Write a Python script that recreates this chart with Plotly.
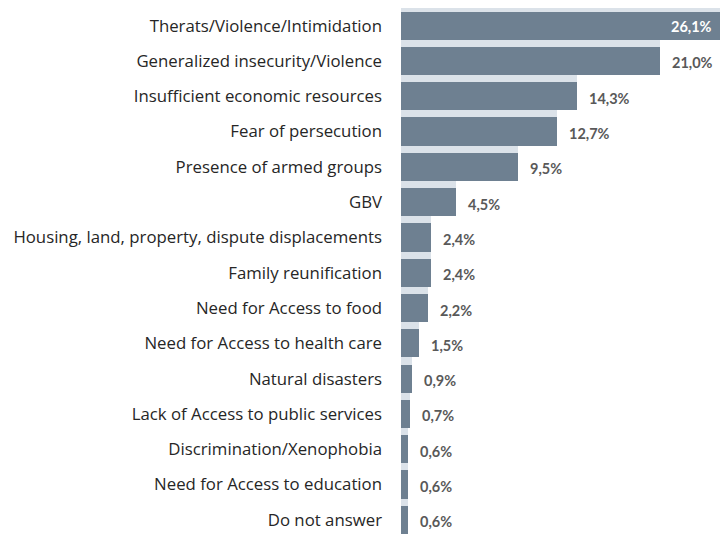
import plotly.graph_objects as go

categories = [
    "Therats/Violence/Intimidation",
    "Generalized insecurity/Violence",
    "Insufficient economic resources",
    "Fear of persecution",
    "Presence of armed groups",
    "GBV",
    "Housing, land, property, dispute displacements",
    "Family reunification",
    "Need for Access to food",
    "Need for Access to health care",
    "Natural disasters",
    "Lack of Access to public services",
    "Discrimination/Xenophobia",
    "Need for Access to education",
    "Do not answer",
]
values = [26.1, 21.0, 14.3, 12.7, 9.5, 4.5, 2.4, 2.4, 2.2, 1.5, 0.9, 0.7, 0.6, 0.6, 0.6]
value_labels = ["26,1%", "21,0%", "14,3%", "12,7%", "9,5%", "4,5%", "2,4%", "2,4%",
                "2,2%", "1,5%", "0,9%", "0,7%", "0,6%", "0,6%", "0,6%"]

X_MAX = 25.9
DARK = "rgb(110,128,145)"
LIGHT = "rgb(219,226,233)"

fig = go.Figure()
# light "shadow" band behind each bar
fig.add_trace(go.Bar(
    y=categories, x=values, orientation="h",
    marker=dict(color=LIGHT, line=dict(width=0)),
    width=1.0, offset=-0.6, hoverinfo="skip", showlegend=False,
))
# main bars
fig.add_trace(go.Bar(
    y=categories, x=values, orientation="h",
    marker=dict(color=DARK, line=dict(width=0)),
    width=0.8, offset=-0.4, showlegend=False,
))

for cat, v, lab in zip(categories, values, value_labels):
    if v > X_MAX:
        fig.add_annotation(x=X_MAX, y=cat, text=lab, showarrow=False,
                           xanchor="right", xshift=-6, yshift=-1,
                           font=dict(family="Lato", size=14.5, color="white", weight="bold"))
    else:
        fig.add_annotation(x=v, y=cat, text=lab, showarrow=False,
                           xanchor="left", xshift=10, yshift=-2,
                           font=dict(family="Lato", size=14.5, color="#595959", weight="bold"))

fig.update_layout(
    width=720, height=534,
    margin=dict(l=401, r=0, t=8, b=0),
    paper_bgcolor="white", plot_bgcolor="white",
    barmode="overlay",
    bargap=0,
    xaxis=dict(range=[0, X_MAX], visible=False, fixedrange=True),
    yaxis=dict(
        type="category", range=[14.4, -0.5],
        showgrid=False, zeroline=False, showline=False, ticks="",
        ticklabelstandoff=18,
        tickfont=dict(family="Open Sans", size=16.8, color="#262626"),
    ),
)

fig.write_html("out.html")
